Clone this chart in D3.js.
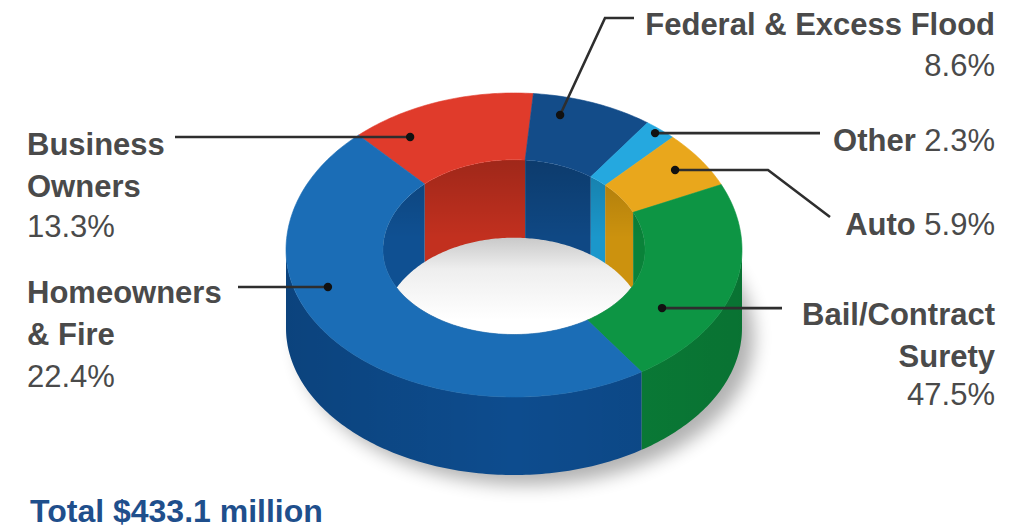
<!DOCTYPE html>
<html>
<head>
<meta charset="utf-8">
<script src="https://cdn.jsdelivr.net/npm/d3@7"></script>
<style>
  html, body { margin: 0; padding: 0; background: #ffffff; }
  svg { display: block; }
</style>
</head>
<body>
<svg id="chart" width="1022" height="528"></svg>
<script>
// ---------------- DATA ----------------
const categories = ["Business Owners", "Federal & Excess Flood", "Other", "Auto", "Homeowners & Fire", "Bail/Contract Surety"];
const shares = [13.3, 8.6, 2.3, 5.9, 22.4, 47.5];
const shareLabels = ["13.3%", "8.6%", "2.3%", "5.9%", "22.4%", "47.5%"];
const totalLabel = "Total $433.1 million";

// ---------------- STYLES ----------------
const topColors   = ["#e03b2b", "#134c89", "#25a8df", "#e9a71c", "#0d9544", "#1b6db6"];
const sideColors  = ["#b52a1c", "#0e4580", "#1a92c6", "#c78f0e", "#0a7f38", "#0d4c8e"];
const innerColors = ["#c2301f", "#0f4884", "#1b97cb", "#cc920e", "#0a8239", "#0f5092"];

// ---------------- LAYOUT ----------------
const cx = 514, cy = 250, RX = 228, RY_FAR = 157, RY_NEAR = 147, INNER = 0.575, DEPTH = 78;
const START = -43 * Math.PI / 180;

const svg = d3.select("#chart");
const defs = svg.append("defs");

// projection scales (piecewise vertical scale gives a slight perspective)
const xs = d3.scaleLinear().domain([-1, 1]).range([cx - RX, cx + RX]);
const ys = d3.scaleLinear().domain([-1, 0, 1]).range([cy + RY_NEAR, cy, cy - RY_FAR]);
const proj = (a, r) => [xs(r * Math.sin(a)), ys(r * Math.cos(a))];

const line = d3.line();
function arcPts(a0, a1, r, dy) {
  const n = Math.max(2, Math.ceil(Math.abs(a1 - a0) / (Math.PI / 180)));
  return d3.range(n + 1).map(i => {
    const a = a0 + (a1 - a0) * i / n;
    const p = proj(a, r);
    return [p[0], p[1] + (dy || 0)];
  });
}
function band(a0, a1, r0, r1, dy0, dy1) {
  const pts = arcPts(a0, a1, r0, dy0).concat(arcPts(a1, a0, r1, dy1));
  return line(pts) + "Z";
}
function intersect(s, e, lo, hi) {
  const a = Math.max(s, lo), b = Math.min(e, hi);
  return b > a ? [a, b] : null;
}

const pie = d3.pie().sort(null).value(d => d).startAngle(START).endAngle(START + 2 * Math.PI);
const arcs = pie(shares);

// ---- filters & gradients ----
const blur = defs.append("filter").attr("id", "blur").attr("x", "-30%").attr("y", "-30%").attr("width", "160%").attr("height", "160%");
blur.append("feGaussianBlur").attr("stdDeviation", 9);

const floorGrad = defs.append("linearGradient").attr("id", "floor")
  .attr("gradientUnits", "userSpaceOnUse").attr("x1", 0).attr("x2", 0).attr("y1", cy - 15).attr("y2", cy + 70);
floorGrad.append("stop").attr("offset", 0).attr("stop-color", "#c6c6c6");
floorGrad.append("stop").attr("offset", 0.4).attr("stop-color", "#eeeeee");
floorGrad.append("stop").attr("offset", 1).attr("stop-color", "#ffffff");

const wallShade = defs.append("linearGradient").attr("id", "wallShade")
  .attr("gradientUnits", "userSpaceOnUse").attr("x1", 0).attr("x2", 0)
  .attr("y1", cy - RY_FAR * INNER).attr("y2", cy - RY_FAR * INNER + DEPTH);
wallShade.append("stop").attr("offset", 0).attr("stop-color", "#000").attr("stop-opacity", 0.18);
wallShade.append("stop").attr("offset", 1).attr("stop-color", "#000").attr("stop-opacity", 0);

const sideShade = defs.append("linearGradient").attr("id", "sideShade")
  .attr("gradientUnits", "userSpaceOnUse").attr("x1", cx - RX).attr("x2", cx + RX).attr("y1", 0).attr("y2", 0);
sideShade.append("stop").attr("offset", 0).attr("stop-color", "#000").attr("stop-opacity", 0.12);
sideShade.append("stop").attr("offset", 0.5).attr("stop-color", "#000").attr("stop-opacity", 0.0);
sideShade.append("stop").attr("offset", 1).attr("stop-color", "#000").attr("stop-opacity", 0.1);

const holePath = line(arcPts(0, 2 * Math.PI, INNER, 0)) + "Z";
defs.append("clipPath").attr("id", "hole").append("path").attr("d", holePath);

// ---- ground shadow ----
svg.append("path")
  .attr("d", line(arcPts(0, 2 * Math.PI, 1.0, DEPTH)) + "Z")
  .attr("transform", "translate(12,10)")
  .attr("fill", "#000").attr("opacity", 0.3)
  .attr("filter", "url(#blur)");

// ---- hole floor ----
const holeG = svg.append("g").attr("clip-path", "url(#hole)");
holeG.append("path").attr("d", holePath).attr("fill", "url(#floor)");

// ---- inner walls (far half, seen through the hole) ----
const backRanges = [[-Math.PI / 2, Math.PI / 2], [3 * Math.PI / 2, 5 * Math.PI / 2]];
arcs.forEach((d, i) => {
  backRanges.forEach(([lo, hi]) => {
    const seg = intersect(d.startAngle, d.endAngle, lo, hi);
    if (!seg) return;
    const p = band(seg[0], seg[1], INNER, INNER, 0, DEPTH);
    holeG.append("path").attr("d", p).attr("fill", innerColors[i]);
    holeG.append("path").attr("d", p).attr("fill", "url(#wallShade)");
  });
});

// ---- outer side walls (near half) ----
const sideG = svg.append("g");
arcs.forEach((d, i) => {
  const seg = intersect(d.startAngle, d.endAngle, Math.PI / 2, 3 * Math.PI / 2);
  if (!seg) return;
  const p = band(seg[0], seg[1], 1, 1, 0, DEPTH);
  sideG.append("path").attr("d", p).attr("fill", sideColors[i]);
  sideG.append("path").attr("d", p).attr("fill", "url(#sideShade)");
});

// ---- top faces ----
svg.append("g").selectAll("path").data(arcs).join("path")
  .attr("d", d => band(d.startAngle, d.endAngle, 1, INNER, 0, 0))
  .attr("fill", (d, i) => topColors[i])
  .attr("stroke", (d, i) => topColors[i]).attr("stroke-width", 0.6);

// ---------------- LABELS ----------------
const FONT = "'Liberation Sans', Arial, Helvetica, sans-serif";
const labelSpecs = [
  { lines: [["Business", ""], ["Owners", ""], ["", "13.3%"]], x: 27, y: [155, 197, 237], anchor: "start",
    slice: 0, frac: 0.223, r: 0.852, path: [[175, null]] },
  { lines: [["Federal & Excess Flood", ""], ["", "8.6%"]], x: 995, y: [35, 76], anchor: "end",
    slice: 1, frac: 0.27, r: 0.883, path: [[605, 18], [634, 18]] },
  { lines: [["Other ", "2.3%"]], x: 995, y: [151], anchor: "end",
    slice: 2, frac: 0.47, r: 0.968, path: [[820, null]] },
  { lines: [["Auto ", "5.9%"]], x: 995, y: [235], anchor: "end",
    slice: 3, frac: 0.475, r: 0.871, path: [[768, null], [830, 217]] },
  { lines: [["Homeowners", ""], ["& Fire", ""], ["", "22.4%"]], x: 27, y: [303, 345, 387], anchor: "start",
    slice: 5, frac: 0.625, r: 0.854, path: [[238, null]] },
  { lines: [["Bail/Contract", ""], ["Surety", ""], ["", "47.5%"]], x: 995, y: [325, 367, 405], anchor: "end",
    slice: 4, frac: 0.694, r: 0.76, path: [[782, null]] }
];

const leaderG = svg.append("g");
labelSpecs.forEach(s => {
  const d = arcs[s.slice];
  const a = d.startAngle + s.frac * (d.endAngle - d.startAngle);
  const dot = proj(a, s.r);
  const pts = [dot];
  s.path.forEach(([px, py]) => pts.push([px, py === null ? dot[1] : py]));
  leaderG.append("path").attr("d", line(pts))
    .attr("fill", "none").attr("stroke", "#2e2e2e").attr("stroke-width", 2.6)
    .attr("stroke-linejoin", "miter");
  leaderG.append("circle").attr("cx", dot[0]).attr("cy", dot[1]).attr("r", 4.2).attr("fill", "#111");
});

const textG = svg.append("g").attr("font-family", FONT).attr("font-size", 31).attr("fill", "#4a4a4a");
labelSpecs.forEach(s => {
  s.lines.forEach((ln, k) => {
    const t = textG.append("text").attr("x", s.x).attr("y", s.y[k]).attr("text-anchor", s.anchor);
    if (ln[0]) t.append("tspan").attr("font-weight", "bold").text(ln[0]);
    if (ln[1]) t.append("tspan").attr("font-weight", "normal").text(ln[1]);
  });
});

svg.append("text")
  .attr("x", 30).attr("y", 522)
  .attr("font-family", FONT).attr("font-size", 32).attr("font-weight", "bold")
  .attr("fill", "#1f4f8c")
  .text(totalLabel);
</script>
</body>
</html>
